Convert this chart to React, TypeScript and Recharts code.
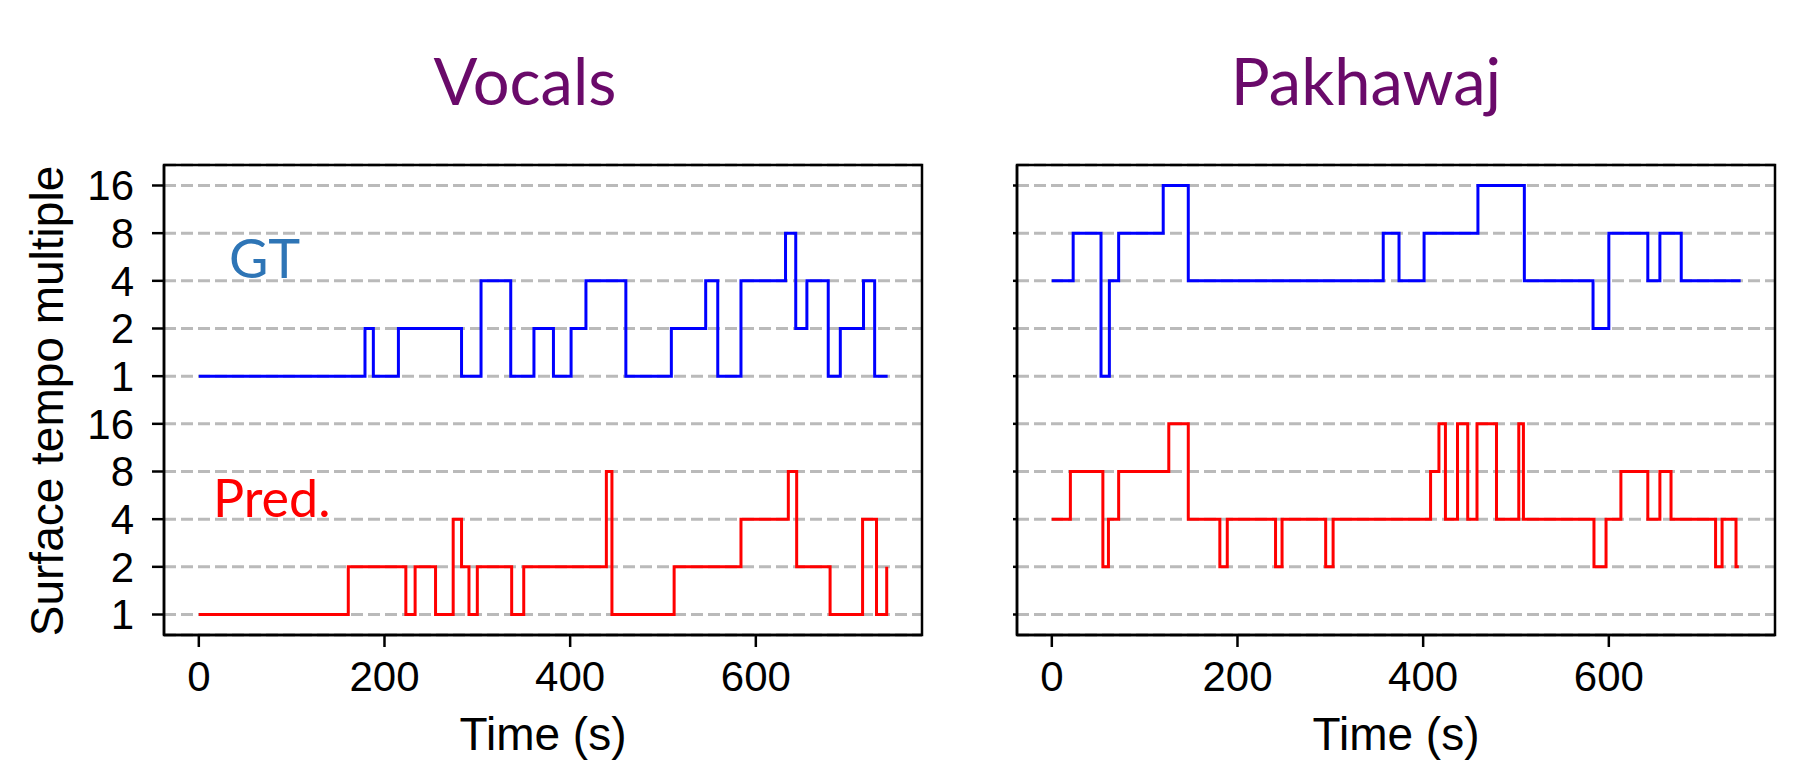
import React from 'react';
import { LineChart, Line, XAxis, YAxis, CartesianGrid, ReferenceArea } from 'recharts';

// y positions: lower band = prediction, upper band = ground truth
const tierLabels = ['1', '2', '4', '8', '16', '1', '2', '4', '8', '16'];
const tierTicks = [0, 1, 2, 3, 4, 5, 6, 7, 8, 9];
const timeTicks = [0, 200, 400, 600];

const vocalsGtTimes = [0, 179, 188, 215, 283, 304, 336, 361, 382, 401, 417, 460, 509, 546, 559, 584, 632, 643, 655, 678, 691, 716, 728, 742];
const vocalsGtValues = [1, 2, 1, 2, 1, 4, 1, 2, 1, 2, 4, 1, 2, 4, 1, 4, 8, 2, 4, 1, 2, 4, 1, 1];

const vocalsPredTimes = [0, 161, 223, 233, 255, 274, 283, 291, 300, 337, 350, 439, 445, 512, 584, 635, 644, 680, 715, 730, 741];
const vocalsPredValues = [1, 2, 1, 2, 1, 4, 2, 1, 2, 1, 2, 8, 1, 2, 4, 8, 2, 1, 4, 1, 2];

const pakhawajGtTimes = [0, 23, 53, 62, 72, 120, 147, 357, 374, 401, 459, 509, 583, 600, 642, 655, 678, 742];
const pakhawajGtValues = [4, 8, 1, 4, 8, 16, 4, 8, 4, 8, 16, 4, 2, 8, 4, 8, 4, 4];

const pakhawajPredTimes = [0, 20, 55, 61, 72, 126, 147, 181, 189, 241, 248, 295, 303, 408, 417, 424, 437, 448, 458, 479, 503, 508, 584, 597, 613, 642, 655, 667, 715, 722, 737, 740];
const pakhawajPredValues = [4, 8, 2, 4, 8, 16, 4, 2, 4, 2, 4, 2, 4, 8, 16, 4, 16, 4, 16, 4, 16, 4, 2, 4, 8, 4, 8, 4, 2, 4, 2, 2];

const toRows = (times: number[], values: number[], band: number) =>
  times.map((t, i) => ({ t, level: band + Math.log2(values[i]) }));

const X_DOMAIN: [number, number] = [-37.5, 779];
const Y_DOMAIN: [number, number] = [-0.43, 9.43];
const tickFont = { fill: '#000', fontSize: 42, fontFamily: 'Liberation Sans, Arial, sans-serif' };

type PanelProps = {
  left: number;
  width: number;
  plotLeft: number;
  plotRight: number;
  axisWidth: number;
  showTierLabels: boolean;
  gt: { t: number; level: number }[];
  pred: { t: number; level: number }[];
};

function Panel({ left, width, plotLeft, plotRight, axisWidth, showTierLabels, gt, pred }: PanelProps) {
  return (
    <div style={{ position: 'absolute', left, top: 0 }}>
      <LineChart
        width={width}
        height={762}
        margin={{ top: 165, right: width - plotRight, bottom: 57, left: plotLeft - axisWidth }}
      >
        <CartesianGrid
          xAxisId="bottom"
          yAxisId="left"
          horizontal
          vertical={false}
          stroke="#bababa"
          strokeWidth={3}
          strokeDasharray="12 5"
        />
        <XAxis
          xAxisId="bottom"
          type="number"
          dataKey="t"
          domain={X_DOMAIN}
          ticks={timeTicks}
          allowDataOverflow
          interval={0}
          height={70}
          tickSize={12}
          tickMargin={14}
          tick={tickFont}
          axisLine={{ stroke: '#000', strokeWidth: 2.5 }}
          tickLine={{ stroke: '#000', strokeWidth: 2.5 }}
        />
        <YAxis
          yAxisId="left"
          type="number"
          domain={Y_DOMAIN}
          ticks={tierTicks}
          allowDataOverflow
          interval={0}
          width={axisWidth}
          tickSize={showTierLabels ? 12 : 4}
          tickMargin={18}
          tick={tickFont}
          tickFormatter={(v: number) => (showTierLabels ? tierLabels[v] ?? '' : '')}
          axisLine={{ stroke: '#000', strokeWidth: 2.5 }}
          tickLine={{ stroke: '#000', strokeWidth: 2.5 }}
        />
        <ReferenceArea
          xAxisId="bottom"
          yAxisId="left"
          x1={X_DOMAIN[0]}
          x2={X_DOMAIN[1]}
          y1={Y_DOMAIN[0]}
          y2={Y_DOMAIN[1]}
          fill="none"
          fillOpacity={0}
          stroke="#000"
          strokeWidth={2.5}
          ifOverflow="visible"
        />
        <Line
          xAxisId="bottom"
          yAxisId="left"
          data={gt}
          dataKey="level"
          type="stepAfter"
          stroke="#0000ff"
          strokeWidth={3}
          dot={false}
          isAnimationActive={false}
        />
        <Line
          xAxisId="bottom"
          yAxisId="left"
          data={pred}
          dataKey="level"
          type="stepAfter"
          stroke="#ff0000"
          strokeWidth={3}
          dot={false}
          isAnimationActive={false}
        />
      </LineChart>
    </div>
  );
}

export default function App() {
  const titleStyle = { fontFamily: 'Lato', fontSize: 65, fill: '#6a0a6a' };
  const labelStyle = { fontFamily: 'Liberation Sans, Arial, sans-serif', fontSize: 46, fill: '#000' };
  return (
    <div style={{ position: 'absolute', left: 0, top: 0, width: 1805, height: 762, background: '#fff', overflow: 'hidden' }}>
      <Panel
        left={0}
        width={940}
        plotLeft={164}
        plotRight={922}
        axisWidth={90}
        showTierLabels
        gt={toRows(vocalsGtTimes, vocalsGtValues, 5)}
        pred={toRows(vocalsPredTimes, vocalsPredValues, 0)}
      />
      <Panel
        left={940}
        width={865}
        plotLeft={77}
        plotRight={835}
        axisWidth={10}
        showTierLabels={false}
        gt={toRows(pakhawajGtTimes, pakhawajGtValues, 5)}
        pred={toRows(pakhawajPredTimes, pakhawajPredValues, 0)}
      />
      <svg width={1805} height={762} style={{ position: 'absolute', left: 0, top: 0, pointerEvents: 'none' }}>
        <text x={525} y={105} textAnchor="middle" style={titleStyle}>Vocals</text>
        <text x={1366} y={105} textAnchor="middle" style={titleStyle}>Pakhawaj</text>
        <text x={229} y={278} style={{ fontFamily: 'Lato', fontSize: 54, fill: '#2e75b6' }}>GT</text>
        <text x={213} y={517} style={{ fontFamily: 'Lato', fontSize: 52, fill: '#ff0000' }}>Pred.</text>
        <text x={543} y={750} textAnchor="middle" style={labelStyle}>Time (s)</text>
        <text x={1396} y={750} textAnchor="middle" style={labelStyle}>Time (s)</text>
        <text x={63} y={401} textAnchor="middle" transform="rotate(-90 63 401)" style={labelStyle}>
          Surface tempo multiple
        </text>
      </svg>
    </div>
  );
}
